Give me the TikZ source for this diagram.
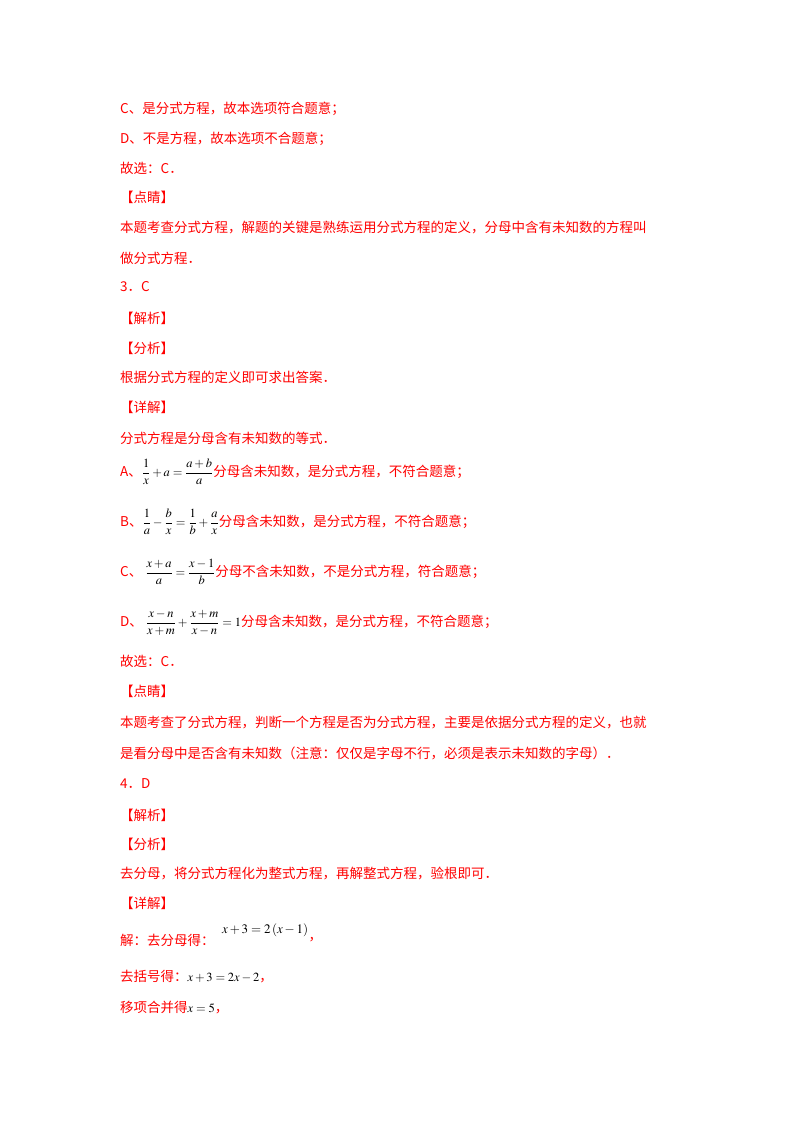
\documentclass[tikz,border=0pt]{standalone}
\usepackage{amsmath}
\usepackage{mathptmx}
\usepackage{fontspec}
\setmainfont{Liberation Serif}
\newfontfamily\cjk{Noto Sans CJK SC}
\definecolor{txtred}{RGB}{255,0,0}
\newcommand{\mm}[1]{\textcolor{black}{\fontsize{12.5}{14}\selectfont$#1$}}
\begin{document}
\begin{tikzpicture}[x=1pt,y=1pt,
  ln/.style={anchor=west,inner sep=0pt,text=txtred,font=\cjk\fontsize{13.5}{16}\selectfont},
  mth/.style={anchor=west,inner sep=0pt,text=black,font=\fontsize{13}{15}\selectfont}]
\useasboundingbox[fill=white] (0,0) rectangle (800,-1132);
\node[ln] (a1) at (120,-109) {C、是分式方程，故本选项符合题意；};
\node[ln] (a2) at (120,-139) {D、不是方程，故本选项不合题意；};
\node[ln] (a3) at (120,-168) {故选：C．};
\node[ln] (a4) at (120,-197) {【点睛】};
\node[ln] (a5) at (120,-228) {本题考查分式方程，解题的关键是熟练运用分式方程的定义，分母中含有未知数的方程叫};
\node[ln] (a6) at (120,-258) {做分式方程．};
\node[ln] (a7) at (120,-287) {3．C};
\node[ln] (a8) at (120,-318) {【解析】};
\node[ln] (a9) at (120,-348) {【分析】};
\node[ln] (a10) at (120,-377) {根据分式方程的定义即可求出答案．};
\node[ln] (a11) at (120,-407) {【详解】};
\node[ln] (a12) at (120,-438) {分式方程是分母含有未知数的等式．};
\node[ln] (bA) at (120,-472) {A、\mm{\dfrac{1}{x}+a=\dfrac{a+b}{a}}分母含未知数，是分式方程，不符合题意；};
\node[ln] (bB) at (120,-522) {B、\mm{\dfrac{1}{a}-\dfrac{b}{x}=\dfrac{1}{b}+\dfrac{a}{x}}分母含未知数，是分式方程，不符合题意；};
\node[ln] (bC) at (120,-572) {C、\ \mm{\dfrac{x+a}{a}=\dfrac{x-1}{b}}分母不含未知数，不是分式方程，符合题意；};
\node[ln] (bD) at (120,-623) {D、\ \mm{\dfrac{x-n}{x+m}+\dfrac{x+m}{x-n}=1}分母含未知数，是分式方程，不符合题意；};
\node[ln] (c1) at (120,-661) {故选：C．};
\node[ln] (c2) at (120,-691) {【点睛】};
\node[ln] (c3) at (120,-722) {本题考查了分式方程，判断一个方程是否为分式方程，主要是依据分式方程的定义，也就};
\node[ln] (c4) at (120,-753) {是看分母中是否含有未知数（注意：仅仅是字母不行，必须是表示未知数的字母）．};
\node[ln] (c5) at (120,-784) {4．D};
\node[ln] (c6) at (120,-815) {【解析】};
\node[ln] (c7) at (120,-844) {【分析】};
\node[ln] (c8) at (120,-873) {去分母，将分式方程化为整式方程，再解整式方程，验根即可．};
\node[ln] (c9) at (120,-903) {【详解】};
\node[ln] (d1) at (120,-940) {解：去分母得：};
\node[mth] (d1m) at (222,-930) {$x+3=2\left(x-1\right)$};
\node[ln] (d1c) at (d1m.south east) [anchor=north west] {，};
\node[ln] (d2) at (120,-977) {去括号得：\mm{x+3=2x-2}，};
\node[ln] (d3) at (120,-1008) {移项合并得\mm{x=5}，};
\end{tikzpicture}
\end{document}
